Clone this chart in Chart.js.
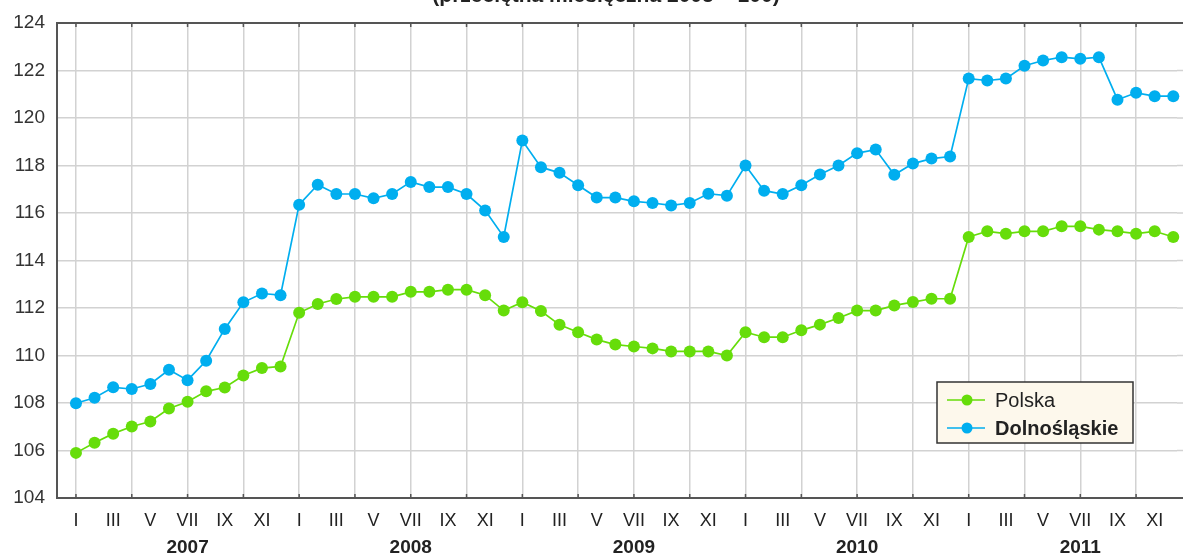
<!DOCTYPE html>
<html>
<head>
<meta charset="utf-8">
<script src="https://cdn.jsdelivr.net/npm/chart.js@4/dist/chart.umd.min.js"></script>
<style>
html,body{margin:0;padding:0;background:#fff;}
canvas{display:block;}
</style>
</head>
<body>
<canvas id="c" width="1183" height="556"></canvas>
<script>
const months = ['I','II','III','IV','V','VI','VII','VIII','IX','X','XI','XII'];
const years = ['2007','2008','2009','2010','2011'];
const titleText = '(przeciętna miesięczna 2005 = 100)';
const seriesNames = ['Polska', 'Dolnośląskie'];

const polska = [
  105.90, 106.33, 106.71, 107.01, 107.22, 107.77, 108.05, 108.49, 108.65, 109.16, 109.47, 109.54,
  111.80, 112.17, 112.38, 112.47, 112.47, 112.47, 112.68, 112.68, 112.77, 112.77, 112.54, 111.89,
  112.24, 111.87, 111.29, 110.98, 110.67, 110.46, 110.38, 110.30, 110.17, 110.17, 110.17, 110.00,
  110.98, 110.77, 110.77, 111.06, 111.30, 111.58, 111.89, 111.89, 112.11, 112.25, 112.39, 112.39,
  114.99, 115.23, 115.13, 115.23, 115.23, 115.44, 115.44, 115.30, 115.23, 115.13, 115.23, 114.99
];
const dolnoslaskie = [
  107.99, 108.22, 108.66, 108.59, 108.80, 109.40, 108.96, 109.78, 111.12, 112.24, 112.61, 112.54,
  116.35, 117.19, 116.80, 116.80, 116.62, 116.80, 117.31, 117.09, 117.09, 116.80, 116.11, 114.99,
  119.05, 117.93, 117.69, 117.17, 116.65, 116.65, 116.49, 116.42, 116.32, 116.42, 116.81, 116.73,
  118.00, 116.94, 116.80, 117.17, 117.62, 118.00, 118.52, 118.67, 117.61, 118.08, 118.29, 118.38,
  121.66, 121.58, 121.66, 122.20, 122.42, 122.56, 122.49, 122.56, 120.77, 121.06, 120.92, 120.92
];

const GREEN = '#66DD0A';
const BLUE = '#00AEEF';
const FONT = "'Liberation Sans', Arial, sans-serif";
const TEXT = '#222';

function toPoints(arr){ return arr.map((v,i)=>({x:i, y:v})); }

const extras = {
  id: 'extras',
  beforeDatasetsDraw(chart){
    const ctx = chart.ctx;
    const a = chart.chartArea;
    ctx.save();
    // extend horizontal grid/frame to the canvas edge
    ctx.strokeStyle = '#D2D2D2';
    ctx.lineWidth = 1.5;
    const ys = chart.scales.y;
    for (let v = 106; v < 124; v += 2){
      const py = ys.getPixelForValue(v);
      ctx.beginPath(); ctx.moveTo(a.right, py); ctx.lineTo(chart.width, py); ctx.stroke();
    }
    ctx.strokeStyle = '#555';
    ctx.lineWidth = 2;
    ctx.beginPath();
    ctx.moveTo(a.left, a.top); ctx.lineTo(chart.width, a.top);
    ctx.moveTo(a.right - 1, a.bottom); ctx.lineTo(chart.width, a.bottom);
    ctx.stroke();
    ctx.restore();
  },
  afterDraw(chart){
    const ctx = chart.ctx;
    const a = chart.chartArea;
    const xs = chart.scales.x;
    ctx.save();
    // title (partly cut off at top)
    ctx.fillStyle = TEXT;
    ctx.font = "bold 21px " + FONT;
    ctx.textAlign = 'center';
    ctx.textBaseline = 'alphabetic';
    ctx.fillText(titleText, 606, 2);
    // inward tick marks
    ctx.strokeStyle = '#555';
    ctx.lineWidth = 1.5;
    for (let m = 0; m < 60; m += 3){
      const px = xs.getPixelForValue(m);
      ctx.beginPath();
      ctx.moveTo(px, a.top); ctx.lineTo(px, a.top + 4);
      ctx.moveTo(px, a.bottom); ctx.lineTo(px, a.bottom - 4);
      ctx.stroke();
    }
    // year labels
    ctx.fillStyle = TEXT;
    ctx.font = "bold 19px " + FONT;
    ctx.textBaseline = 'middle';
    years.forEach((y,k)=>{
      ctx.fillText(y, xs.getPixelForValue(12*k + 6), 548);
    });
    // legend
    const bx = 937, by = 382, bw = 196, bh = 61;
    ctx.fillStyle = '#FDF8EC';
    ctx.fillRect(bx, by, bw, bh);
    ctx.strokeStyle = '#333';
    ctx.lineWidth = 1.5;
    ctx.strokeRect(bx, by, bw, bh);
    const rows = [
      {name: seriesNames[0], color: GREEN, bold: false, y: 400},
      {name: seriesNames[1], color: BLUE, bold: true, y: 428}
    ];
    rows.forEach(r=>{
      ctx.strokeStyle = r.color;
      ctx.lineWidth = 1.5;
      ctx.beginPath();
      ctx.moveTo(947, r.y); ctx.lineTo(985, r.y);
      ctx.stroke();
      ctx.fillStyle = r.color;
      ctx.beginPath();
      ctx.arc(967, r.y, 5.5, 0, Math.PI*2);
      ctx.fill();
      ctx.fillStyle = TEXT;
      ctx.font = (r.bold ? 'bold ' : '') + '20px ' + FONT;
      ctx.textAlign = 'left';
      ctx.textBaseline = 'middle';
      ctx.fillText(r.name, 995, r.y + 1);
    });
    ctx.restore();
  }
};

new Chart(document.getElementById('c'), {
  type: 'line',
  data: {
    datasets: [
      {
        label: seriesNames[0],
        data: toPoints(polska),
        borderColor: GREEN,
        backgroundColor: GREEN,
        borderWidth: 1.7,
        pointRadius: 6,
        pointHoverRadius: 6,
        pointBorderWidth: 0,
        tension: 0,
        clip: false
      },
      {
        label: seriesNames[1],
        data: toPoints(dolnoslaskie),
        borderColor: BLUE,
        backgroundColor: BLUE,
        borderWidth: 1.7,
        pointRadius: 6,
        pointHoverRadius: 6,
        pointBorderWidth: 0,
        tension: 0,
        clip: false
      }
    ]
  },
  options: {
    responsive: false,
    animation: false,
    devicePixelRatio: 1,
    layout: { padding: { top: 23, right: 0, left: 0, bottom: 0 } },
    plugins: { legend: { display: false }, tooltip: { enabled: false }, title: { display: false } },
    scales: {
      x: {
        type: 'linear',
        min: -1.02,
        max: 59.2,
        afterFit(s){ s.height = 58; s.paddingRight = 0; s.paddingLeft = 0; },
        ticks: {
          stepSize: 1,
          autoSkip: false,
          maxRotation: 0,
          padding: 12,
          color: TEXT,
          font: { family: FONT, size: 18 },
          callback(v){
            if (Number.isInteger(v) && v >= 0 && v % 2 === 0) return months[v % 12];
            return '';
          }
        },
        grid: {
          drawTicks: false,
          lineWidth: 1.5,
          color(ctx){
            const v = ctx.tick && ctx.tick.value;
            return (Number.isInteger(v) && v >= 0 && v % 3 === 0) ? '#D2D2D2' : 'rgba(0,0,0,0)';
          }
        },
        border: { display: true, color: '#555', width: 2 }
      },
      y: {
        min: 104,
        max: 124,
        afterFit(s){ s.width = 57; s.paddingTop = 0; s.paddingBottom = 0; },
        ticks: {
          stepSize: 2,
          padding: 12,
          color: '#333',
          font: { family: FONT, size: 19 }
        },
        grid: {
          drawTicks: false,
          lineWidth: 1.5,
          color: '#D2D2D2'
        },
        border: { display: true, color: '#555', width: 2 }
      }
    }
  },
  plugins: [extras]
});
</script>
</body>
</html>
